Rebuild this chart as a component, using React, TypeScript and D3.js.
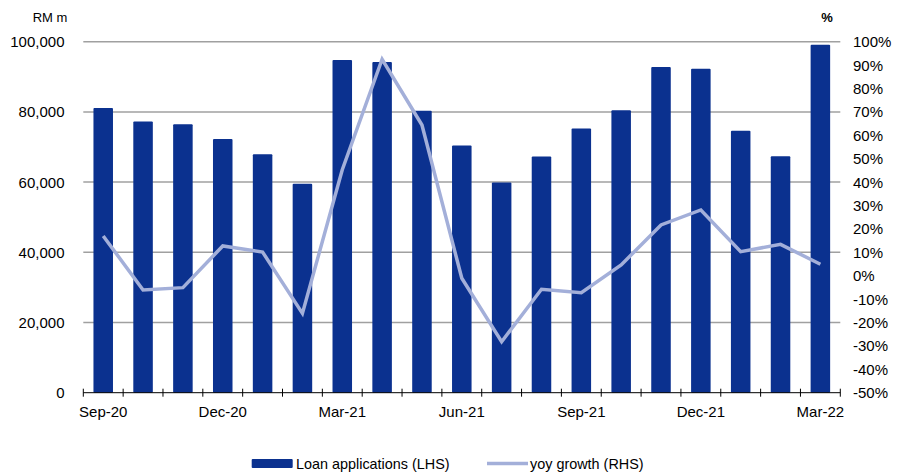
import React from "react";
import * as d3 from "d3";

const months = [
  "Sep-20", "Oct-20", "Nov-20", "Dec-20", "Jan-21", "Feb-21", "Mar-21", "Apr-21", "May-21", "Jun-21",
  "Jul-21", "Aug-21", "Sep-21", "Oct-21", "Nov-21", "Dec-21", "Jan-22", "Feb-22", "Mar-22",
];
const loanApplications = [
  81100, 77300, 76500, 72300, 67900, 59500, 94800, 94200, 80300, 70400,
  59900, 67300, 75300, 80500, 92800, 92300, 74600, 67400, 99100,
];
const yoyGrowth = [
  17.0, -6.1, -5.1, 12.7, 10.1, -16.1, 45.3, 92.5, 64.4, -1.1,
  -28.2, -5.8, -7.3, 4.6, 21.7, 28.1, 10.3, 13.4, 4.9,
];
const leftTicks = [0, 20000, 40000, 60000, 80000, 100000];
const rightTicks = [-50, -40, -30, -20, -10, 0, 10, 20, 30, 40, 50, 60, 70, 80, 90, 100];
const labelledMonths = ["Sep-20", "Dec-20", "Mar-21", "Jun-21", "Sep-21", "Dec-21", "Mar-22"];

const W = 909;
const H = 473;
const FONT = "'Liberation Sans', Arial, sans-serif";
const BAR = "#0b318f";
const LINE = "#a3afd9";

export default function App() {
  const x = d3.scaleBand<string>().domain(months).range([83.3, 840.3]).paddingInner(0).paddingOuter(0);
  const yL = d3.scaleLinear().domain([0, 100000]).range([392.7, 41.7]);
  const yR = d3.scaleLinear().domain([-50, 100]).range([392.7, 41.7]);
  const bw = x.bandwidth() * 0.49;
  const cx = (m: string) => (x(m) as number) + x.bandwidth() / 2;
  const fmt = d3.format(",");

  const line = d3
    .line<number>()
    .x((_, i) => cx(months[i]))
    .y((d) => yR(d));

  const tickXs = months.map((m) => x(m) as number).concat([x.range()[1]]);

  return (
    <svg
      width={W}
      height={H}
      style={{ position: "absolute", left: 0, top: 0, background: "#fff" }}
      fontFamily={FONT}
    >
      {/* horizontal gridlines from the left axis */}
      {leftTicks
        .filter((t) => t > 0)
        .map((t) => (
          <line key={t} x1={83.3} x2={840.3} y1={yL(t)} y2={yL(t)} stroke="#a0a0a0" strokeWidth={1.5} />
        ))}

      {/* bars */}
      {months.map((m, i) => (
        <rect
          key={m}
          x={cx(m) - bw / 2}
          y={yL(loanApplications[i])}
          width={bw}
          height={yL(0) - yL(loanApplications[i])}
          fill={BAR}
          rx={1}
        />
      ))}

      {/* yoy growth line */}
      <path d={line(yoyGrowth) || ""} fill="none" stroke={LINE} strokeWidth={3.5} strokeLinejoin="miter" />

      {/* x axis */}
      <line x1={83.3} x2={840.3} y1={yL(0)} y2={yL(0)} stroke="#000" strokeWidth={1} />
      {tickXs.map((t, i) => (
        <line key={i} x1={t} x2={t} y1={yL(0) - 4} y2={yL(0) + 4} stroke="#000" strokeWidth={1} />
      ))}
      {labelledMonths.map((m) => (
        <text key={m} x={cx(m)} y={411} fontSize={15} textAnchor="middle" dominantBaseline="central" fill="#000">
          {m}
        </text>
      ))}

      {/* left axis labels */}
      {leftTicks.map((t) => (
        <text key={t} x={64.5} y={yL(t)} fontSize={15} textAnchor="end" dominantBaseline="central" fill="#000">
          {fmt(t)}
        </text>
      ))}
      <text x={50} y={17} fontSize={13} textAnchor="middle" dominantBaseline="central" fill="#000">
        RM m
      </text>

      {/* right axis labels */}
      {rightTicks.map((t) => (
        <text key={t} x={853} y={yR(t)} fontSize={15} textAnchor="start" dominantBaseline="central" fill="#000">
          {t}%
        </text>
      ))}
      <text x={827} y={17} fontSize={13} fontWeight="bold" textAnchor="middle" dominantBaseline="central" fill="#000">
        %
      </text>

      {/* legend */}
      <rect x={251.7} y={459} width={41} height={9} fill={BAR} rx={1} />
      <text x={296} y={463.5} fontSize={14.4} dominantBaseline="central" fill="#000">
        Loan applications (LHS)
      </text>
      <line x1={487} x2={528} y1={463.5} y2={463.5} stroke={LINE} strokeWidth={3.5} />
      <text x={530} y={463.5} fontSize={14.4} dominantBaseline="central" fill="#000">
        yoy growth (RHS)
      </text>
    </svg>
  );
}
